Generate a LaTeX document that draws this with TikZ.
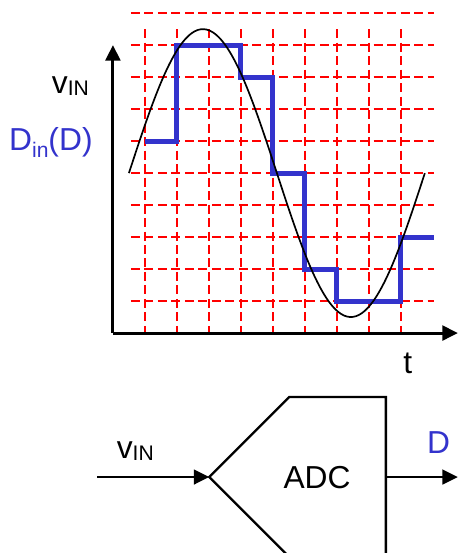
\documentclass[tikz,border=0pt]{standalone}
\usepackage{fontspec}
\setmainfont{Liberation Sans}
\usetikzlibrary{arrows.meta}
\definecolor{stairblue}{RGB}{51,51,204}
\newcommand\lowidx[2]{\raisebox{-#1}{\fontsize{15}{17}\selectfont #2}}

\begin{document}
\begin{tikzpicture}[scale=0.8,>={Triangle[length=11pt,width=10.5pt]},
  grid/.style={red,line width=1.7pt,dash pattern=on 6.4pt off 3.2pt},
  stairs/.style={stairblue,line width=3.6pt},
  wire/.style={line width=1.7pt},
  lbl/.style={font=\fontsize{22.6}{26}\selectfont,anchor=base,inner sep=0pt}]
  \useasboundingbox (-3.53,-6.875) rectangle (10.78,10.41);
  \clip (-3.53,-6.875) rectangle (10.78,10.41);
  % sampling grid
  \foreach \i in {1,...,9} \draw[grid] (\i,9.5) -- (\i,0);
  \foreach \j in {1,...,10} \draw[grid] (0.56,\j) -- (10.03,\j);
  % axes
  \coordinate (O) at (0,0);
  \coordinate (ytip) at (0,9);
  \coordinate (xtip) at (10.78,0);
  \draw[wire,line width=2.1pt,->] (O) -- (ytip);
  \draw[wire,line width=2.1pt,->] (O) -- (xtip);
  % quantized output and input signal
  \draw[stairs] (1,6) -| (2,9) -| (4,8) -| (5,5) -| (6,2) -| (7,1) -| (9,3) -- (10.03,3);
  \draw[line width=1.2pt,smooth,domain=0.5:9.75,samples=100]
    plot(\x,{5+4.5*sin(360*(\x-0.5)/9.25)});
  \node[lbl] (vinax) at (-1.33,7.49) {v\lowidx{1.3pt}{IN}};
  \node[lbl,text=stairblue] (dinax) at (-1.94,5.72) {D\lowidx{5.4pt}{in}(D)};
  \node[lbl] (tax) at (9.22,-1.26) {t};
  % converter block
  \coordinate (vin) at (-0.49,-4.5);
  \coordinate (tip) at (3.01,-4.5);
  \coordinate (nw) at (5.51,-2);
  \coordinate (ne) at (8.53,-2);
  \coordinate (se) at (8.53,-7.2);
  \coordinate (sw) at (5.71,-7.2);
  \coordinate (out) at (8.53,-4.5);
  \coordinate (dout) at (10.78,-4.5);
  \draw[wire] (sw) -- (tip) -- (nw) -- (ne) -- (se);
  \draw[wire,->] (vin) -- (tip);
  \draw[wire,->] (out) -- (dout);
  \node[lbl] (adc) at (6.38,-4.85) {ADC};
  \node[lbl] (vinblk) at (0.7,-3.92) {v\lowidx{1.3pt}{IN}};
  \node[lbl,text=stairblue] (dblk) at (10.18,-3.78) {D};
\end{tikzpicture}
\end{document}
